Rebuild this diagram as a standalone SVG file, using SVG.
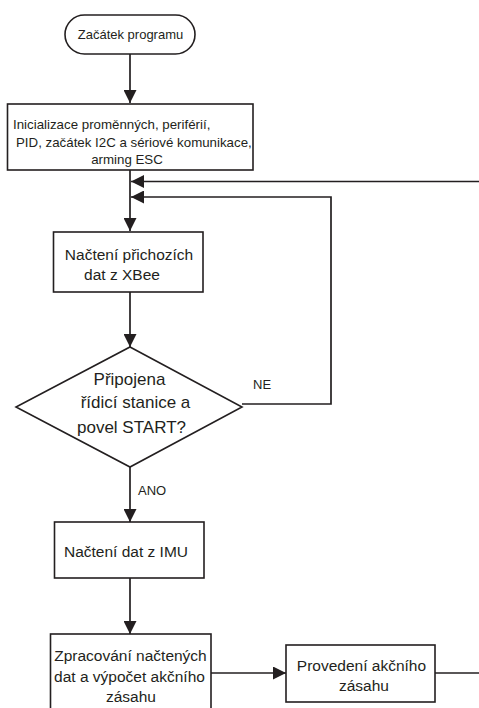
<svg xmlns="http://www.w3.org/2000/svg" width="479" height="708" viewBox="0 0 479 708">
  <style>
    .shape { fill: #ffffff; stroke: #231f20; stroke-width: 1.6; }
    .line { fill: none; stroke: #231f20; stroke-width: 1.7; }
    text { font-family: "Liberation Sans", Arial, sans-serif; fill: #231f20; text-anchor: middle; }
    .t13 { font-size: 13px; }
    .t133 { font-size: 13.3px; }
    .t155 { font-size: 15.5px; }
    .t17 { font-size: 17px; }
    .lbl { font-size: 13px; text-anchor: start; }
  </style>
  <defs>
    <marker id="arrow" markerUnits="userSpaceOnUse" markerWidth="14" markerHeight="13" refX="13" refY="6.5" orient="auto">
      <path d="M0,0 L13,6.5 L0,13 z" fill="#231f20"/>
    </marker>
  </defs>

  <rect width="479" height="708" fill="#ffffff"/>

  <!-- connectors -->
  <g id="connectors">
    <path class="line" d="M130,54 V103" marker-end="url(#arrow)"/>
    <path class="line" d="M130,170 V231" marker-end="url(#arrow)"/>
    <path class="line" d="M479,181.5 H131" marker-end="url(#arrow)"/>
    <path class="line" d="M242,404 H331 V197 H131" marker-end="url(#arrow)"/>
    <path class="line" d="M130,292 V347" marker-end="url(#arrow)"/>
    <path class="line" d="M130,467 V522" marker-end="url(#arrow)"/>
    <path class="line" d="M130,578 V634" marker-end="url(#arrow)"/>
    <path class="line" d="M211,673 H286" marker-end="url(#arrow)"/>
    <path class="line" d="M435,673 H479"/>
    <text class="lbl" x="253" y="389">NE</text>
    <text class="lbl" x="138" y="495">ANO</text>
  </g>

  <g id="start">
    <rect class="shape" x="65" y="15" width="130" height="39" rx="19.5" ry="19.5"/>
    <text class="t13" x="130.5" y="39">Začátek programu</text>
  </g>

  <g id="init">
    <rect class="shape" x="7.5" y="104" width="245.5" height="66"/>
    <text class="t133" x="13" y="128.5" style="text-anchor:start">Inicializace proměnných, periférií,</text>
    <text class="t133" x="16" y="146.5" style="text-anchor:start">PID, začátek I2C a sériové komunikace,</text>
    <text class="t133" x="127" y="164">arming ESC</text>
  </g>

  <g id="read-xbee">
    <rect class="shape" x="53.5" y="232" width="149.5" height="60"/>
    <text class="t155" x="129" y="259.5">Načtení přichozích</text>
    <text class="t155" x="122" y="279.5">dat z XBee</text>
  </g>

  <g id="decision">
    <polygon class="shape" points="130,347 242,407 130,467 16,407"/>
    <text class="t17" x="129.5" y="385">Připojena</text>
    <text class="t17" x="135.5" y="408">řídicí stanice a</text>
    <text class="t17" x="131.5" y="433">povel START?</text>
  </g>

  <g id="read-imu">
    <rect class="shape" x="54.5" y="522" width="149.5" height="56"/>
    <text class="t155" x="126" y="556.5">Načtení dat z IMU</text>
  </g>

  <g id="compute">
    <rect class="shape" x="50.5" y="634" width="160.5" height="90"/>
    <text class="t155" x="130.5" y="660.5">Zpracování načtených</text>
    <text class="t155" x="129.5" y="681.5">dat a výpočet akčního</text>
    <text class="t155" x="131" y="701.5">zásahu</text>
  </g>

  <g id="actuate">
    <rect class="shape" x="286" y="645" width="149" height="57"/>
    <text class="t155" x="361.5" y="670.5">Provedení akčního</text>
    <text class="t155" x="364" y="690.5">zásahu</text>
  </g>
</svg>
